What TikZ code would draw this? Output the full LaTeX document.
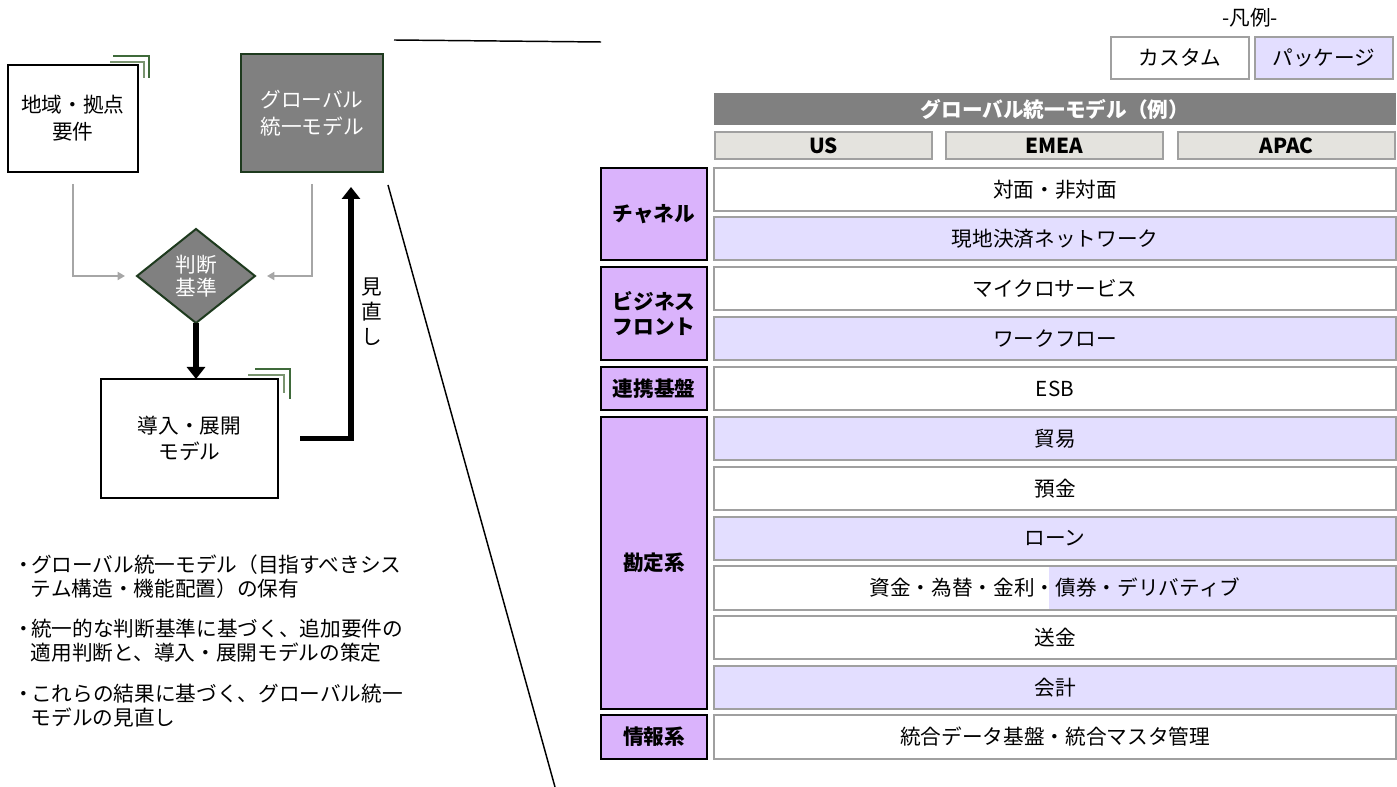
\documentclass[tikz,border=0pt]{standalone}
\usepackage{fontspec}
\setmainfont{Noto Sans CJK JP}
\usetikzlibrary{shapes.geometric,arrows.meta,calc}
\definecolor{boxgray}{HTML}{808080}
\definecolor{darkgreen}{HTML}{1E3A1E}
\definecolor{lav}{HTML}{E3DEFF}
\definecolor{catfill}{HTML}{DAB3FC}
\definecolor{regfill}{HTML}{E4E3DE}
\definecolor{bordergray}{HTML}{A0A0A0}
\definecolor{arrowgray}{HTML}{A6A6A6}
\definecolor{cornerA}{HTML}{7A9470}
\definecolor{cornerB}{HTML}{3F6A3A}
\newcommand\fs{\fontsize{15.5}{19}\selectfont}
\newcommand\bul{\llap{・\kern-2.5pt}}
\newcommand\pbox[7]{\node[#6, minimum width={(#4-#2)*0.75pt}, minimum height={(#5-#3)*0.75pt}] (#1) at ({(#2+#4)/2},{(#3+#5)/2}) {#7};}
\tikzset{
  base/.style={inner sep=0pt, outer sep=0pt, font=\fs, align=center},
  flowbox/.style={base, draw=black, line width=1.5pt, fill=white},
  graybox/.style={base, draw=darkgreen, line width=1.5pt, fill=boxgray, text=white},
  rowbox/.style={base, draw=bordergray, line width=1.6pt, fill=white},
  rowlav/.style={rowbox, fill=lav},
  rowmix/.style={base, draw=bordergray, line width=1.6pt},
  catbox/.style={base, draw=black, line width=1.5pt, fill=catfill, font=\fs\bfseries},
  regbox/.style={base, draw=bordergray, line width=1.5pt, fill=regfill, font=\fs\bfseries},
  hdrbox/.style={base, fill=boxgray, text=white, font=\fs\bfseries},
  legbox/.style={base, draw=bordergray, line width=1.2pt},
  plain/.style={inner sep=0pt, outer sep=0pt, font=\fs},
  bullettext/.style={plain, anchor=west, align=left, font={\fontsize{15.5}{18}\selectfont}},
  grayarr/.style={draw=arrowgray, line width=1.5pt, -{Triangle[width=6pt,length=5.5pt]}, shorten <=9pt, shorten >=9pt},
  blackarr/.style={draw=black, line width=4pt, -{Triangle[width=13.5pt,length=9pt]}},
  zoomline/.style={draw=black, line width=1.1pt},
  cornerin/.style={draw=cornerA, line width=0.9pt},
  cornerout/.style={draw=cornerB, line width=0.9pt}
}
\begin{document}
\begin{tikzpicture}[x=0.75pt,y=-0.75pt]
\useasboundingbox (0,0) rectangle (1397,787);
% ---------- left flow ----------
\pbox{A}{8}{65}{138}{172}{flowbox, font={\fontsize{15.5}{20.5}\selectfont}}{地域・拠点\\要件}
\pbox{G}{241}{54}{383}{172}{graybox, font={\fontsize{15.5}{20}\selectfont}}{グローバル\\統一モデル}
\pbox{C}{101}{379}{278}{498}{flowbox, font={\fontsize{15.5}{19}\selectfont}}{導入・展開\\モデル}
\node[shape=diamond, draw=darkgreen, line width=1.5pt, fill=boxgray, text=white, inner sep=0pt, outer sep=0pt,
      minimum width=88.5pt, minimum height=70.5pt, align=center, font={\fontsize{15.5}{17.5}\selectfont}] (D) at (196,276) {判断\\基準};
% corner marks
\draw[cornerin] ($(A.north east)+(-28,-3)$) -| ($(A.north east)+(6,13)$);
\draw[cornerout] ($(A.north east)+(-25,-9)$) -| ($(A.north east)+(11,13)$);
\draw[cornerin] ($(C.north east)+(-30,-4)$) -| ($(C.north east)+(6,14)$);
\draw[cornerout] ($(C.north east)+(-23,-10)$) -| ($(C.north east)+(12,20)$);
% arrows
\draw[grayarr] (A.south) |- (D.west);
\draw[grayarr] (G.south) |- (D.east);
\draw[blackarr] (D.south) -- (D.south |- C.north);
\coordinate (ret) at (351,187);
\draw[blackarr] ($(C.east)+(22,0)$) -| (ret);
\node[plain, align=center, font={\fontsize{15.5}{18.75}\selectfont}] (rev) at (372,312) {見\\直\\し};
% zoom lines
\coordinate (z1a) at (394,40);
\coordinate (z1b) at (601,42);
\coordinate (z2a) at (388,185);
\coordinate (z2b) at (555,787);
\draw[zoomline] (z1a) -- (z1b);
\draw[zoomline] (z2a) -- (z2b);
% bullets
\node[bullettext] (b1) at (31,577) {\bul グローバル統一モデル（目指すべきシス\\テム構造・機能配置）の保有};
\node[bullettext] (b2) at (31,641) {\bul 統一的な判断基準に基づく、追加要件の\\適用判断と、導入・展開モデルの策定};
\node[bullettext] (b3) at (31,706) {\bul これらの結果に基づく、グローバル統一\\モデルの見直し};
% ---------- legend ----------
\node[plain] (leg) at (1250,18) {-凡例-};
\pbox{L1}{1111}{37}{1249}{79}{legbox, fill=white}{カスタム}
\pbox{L2}{1255}{37}{1393}{79}{legbox, fill=lav}{パッケージ}
% ---------- table ----------
\pbox{H}{714}{93}{1396}{125}{hdrbox}{グローバル統一モデル（例）}
\pbox{US}{715}{132}{932}{159}{regbox}{US}
\pbox{EM}{946}{132}{1163}{159}{regbox}{EMEA}
\pbox{AP}{1178}{132}{1395}{159}{regbox}{APAC}
\pbox{K1}{601}{168}{707}{260}{catbox}{チャネル}
\pbox{K2}{601}{267}{707}{360}{catbox}{ビジネス\\フロント}
\pbox{K3}{601}{367}{707}{410}{catbox}{連携基盤}
\pbox{K4}{601}{417}{707}{709}{catbox}{勘定系}
\pbox{K5}{601}{715}{707}{759}{catbox}{情報系}
\pbox{R1}{714}{168}{1396}{211}{rowbox}{対面・非対面}
\pbox{R2}{714}{217}{1396}{260}{rowlav}{現地決済ネットワーク}
\pbox{R3}{714}{267}{1396}{310}{rowbox}{マイクロサービス}
\pbox{R4}{714}{317}{1396}{360}{rowlav}{ワークフロー}
\pbox{R5}{714}{367}{1396}{410}{rowbox}{ESB}
\pbox{R6}{714}{417}{1396}{460}{rowlav}{貿易}
\pbox{R7}{714}{467}{1396}{510}{rowbox}{預金}
\pbox{R8}{714}{517}{1396}{560}{rowlav}{ローン}
\fill[lav] (1049,566) rectangle (1396,610);
\pbox{R9}{714}{566}{1396}{610}{rowmix}{資金・為替・金利・債券・デリバティブ}
\pbox{R10}{714}{616}{1396}{659}{rowbox}{送金}
\pbox{R11}{714}{666}{1396}{709}{rowlav}{会計}
\pbox{R12}{714}{715}{1396}{759}{rowbox}{統合データ基盤・統合マスタ管理}
\end{tikzpicture}
\end{document}
